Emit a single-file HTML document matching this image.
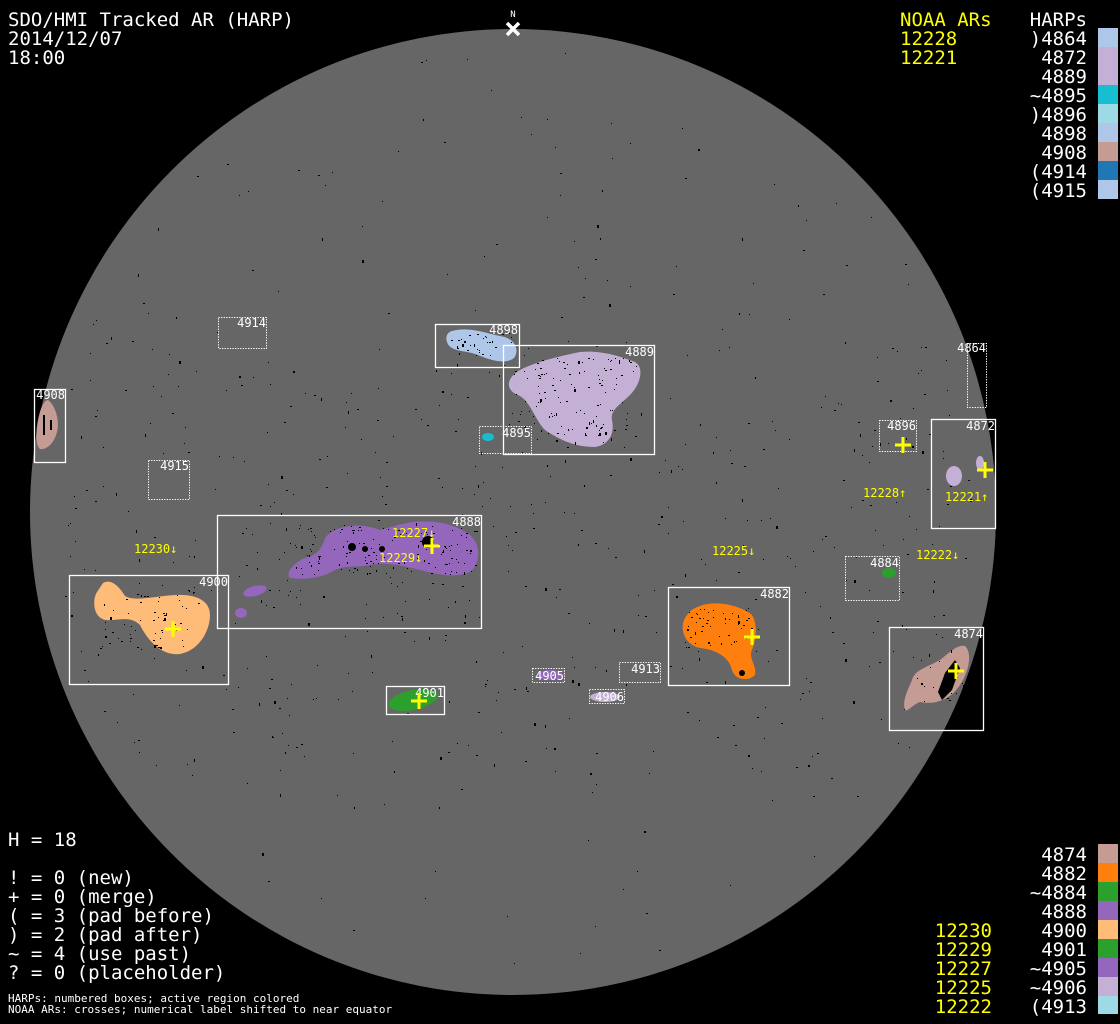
<!DOCTYPE html>
<html><head><meta charset="utf-8"><style>
html,body{margin:0;padding:0;background:#000;}
svg{display:block}
text{font-family:"DejaVu Sans Mono","Liberation Mono",monospace;}
</style></head><body>
<svg id="s" width="1120" height="1024" viewBox="0 0 1120 1024" xmlns="http://www.w3.org/2000/svg">
<rect width="1120" height="1024" fill="#000"/>
<circle cx="513" cy="512" r="483" fill="#666"/>
<g id="dots" fill="#000"></g>
<path d="M452,331 C470,326 488,334 500,336 C515,338 520,350 514,358 C505,365 490,360 478,355 C465,350 450,352 447,342 C445,336 448,332 452,331Z" fill="#aec7e8"/>
<path d="M520,370 C535,362 560,356 580,352 C600,350 620,356 635,362 C645,368 640,385 630,395 C620,405 610,410 612,420 C615,435 608,445 595,447 C575,447 560,440 545,430 C535,420 530,400 518,395 C505,390 506,378 520,370Z" fill="#c5b0d5"/>
<ellipse cx="488" cy="437" rx="6" ry="4" fill="#17becf"/>
<path d="M48,400 C55,405 60,420 57,432 C54,444 46,450 40,449 C35,445 36,430 38,420 C40,410 43,401 48,400Z" fill="#c49c94"/>
<ellipse cx="954" cy="476" rx="8" ry="10" fill="#c5b0d5"/>
<ellipse cx="980" cy="463" rx="4" ry="7" fill="#c5b0d5"/>
<ellipse cx="889" cy="573" rx="7" ry="5" fill="#2ca02c"/>
<path d="M395,526 C420,518 450,520 470,535 C482,545 480,565 470,572 C455,578 440,575 420,570 C400,565 385,562 370,565 C355,568 345,565 335,570 C322,578 305,580 290,578 C285,572 295,562 305,558 C318,555 322,548 325,538 C335,525 360,522 380,530 Z" fill="#9467bd"/>
<ellipse cx="255" cy="591" rx="12" ry="5" fill="#9467bd" transform="rotate(-15 255 591)"/>
<ellipse cx="241" cy="613" rx="6" ry="5" fill="#9467bd"/>
<path d="M103,583 C112,578 120,588 125,596 C135,602 155,596 175,595 C195,594 210,600 210,615 C210,630 200,650 180,654 C165,656 150,645 140,625 C130,615 118,621 106,620 C93,618 92,600 97,592 Z" fill="#ffbb78"/>
<path d="M700,606 C715,600 740,605 752,615 C758,625 756,640 752,650 C748,658 757,665 755,675 C748,682 735,680 732,670 C730,660 720,650 700,648 C685,645 680,630 684,620 C688,612 693,608 700,606Z" fill="#ff7f0e"/>
<path d="M965,646 C972,652 970,670 960,685 C950,700 935,705 920,702 C912,705 908,712 905,710 C902,700 908,690 912,680 C915,670 925,668 940,660 C950,652 958,644 965,646Z" fill="#c49c94"/>
<ellipse cx="413" cy="700" rx="25" ry="10" fill="#2ca02c" transform="rotate(-12 413 700)"/>
<ellipse cx="550" cy="675" rx="13" ry="5" fill="#9467bd"/>
<ellipse cx="605" cy="697" rx="15" ry="5" fill="#c5b0d5"/>
<g fill="#000">
<circle cx="428" cy="542" r="6"/><circle cx="352" cy="547" r="4"/><circle cx="365" cy="549" r="3"/><circle cx="382" cy="549" r="3"/>
<path d="M945,673 L955,660 L960,668 L952,690 L942,700 L938,692Z"/>
<circle cx="742" cy="673" r="3"/><rect x="43" y="415" width="2" height="20"/><rect x="50" y="420" width="2" height="10"/>
</g>
<g id="rdots" fill="#000"></g>
<g fill="none" stroke="#fff" stroke-width="1.3">
<rect x="435.5" y="324.5" width="84" height="43"/>
<rect x="503.5" y="345.5" width="151" height="109"/>
<rect x="34.5" y="389.5" width="31" height="73"/>
<rect x="931.5" y="419.5" width="64" height="109"/>
<rect x="217.5" y="515.5" width="264" height="113"/>
<rect x="69.5" y="575.5" width="159" height="109"/>
<rect x="668.5" y="587.5" width="121" height="98"/>
<rect x="889.5" y="627.5" width="94" height="103"/>
<rect x="386.5" y="686.5" width="58" height="28"/>
</g>
<g fill="none" stroke="#fff" stroke-width="1" stroke-dasharray="1.3 1.3">
<rect x="218.5" y="317.5" width="48" height="31"/>
<rect x="967.5" y="343.5" width="19" height="64"/>
<rect x="479.5" y="426.5" width="52" height="27"/>
<rect x="879.5" y="420.5" width="37" height="31"/>
<rect x="148.5" y="460.5" width="41" height="39"/>
<rect x="845.5" y="556.5" width="54" height="44"/>
<rect x="619.5" y="662.5" width="41" height="20"/>
<rect x="532.5" y="668.5" width="32" height="14"/>
<rect x="589.5" y="689.5" width="35" height="14"/>
</g>
<g fill="#fff" font-size="12" text-anchor="end">
<text x="266" y="327">4914</text><text x="518" y="334">4898</text><text x="654" y="356">4889</text>
<text x="986" y="352">4864</text><text x="65" y="399">4908</text><text x="531" y="437">4895</text>
<text x="916" y="430">4896</text><text x="995" y="430">4872</text><text x="189" y="470">4915</text>
<text x="481" y="526">4888</text><text x="899" y="567">4884</text><text x="228" y="586">4900</text>
<text x="789" y="598">4882</text><text x="983" y="638">4874</text><text x="660" y="673">4913</text>
<text x="564" y="680">4905</text><text x="624" y="701">4906</text><text x="444" y="697">4901</text>
</g>
<g stroke="#ff0" stroke-width="3">
<path d="M424,546h16M432,538v16"/><path d="M165,629h16M173,621v16"/><path d="M744,637h16M752,629v16"/>
<path d="M948,671h16M956,663v16"/><path d="M895,445h16M903,437v16"/><path d="M977,470h16M985,462v16"/>
<path d="M411,701h16M419,693v16"/>
</g>
<g fill="#ff0" font-size="12">
<text x="134" y="553">12230↓</text><text x="392" y="537">12227↓</text><text x="379" y="562">12229↓</text>
<text x="712" y="555">12225↓</text><text x="863" y="497">12228↑</text><text x="945" y="501">12221↑</text>
<text x="916" y="559">12222↓</text>
</g>
<path d="M507,23 L519,35 M519,23 L507,35" stroke="#fff" stroke-width="3.5"/>
<text x="513" y="17" fill="#fff" font-size="9" text-anchor="middle">N</text>
<g fill="#fff" font-size="19">
<text x="8" y="26">SDO/HMI Tracked AR (HARP)</text>
<text x="8" y="45">2014/12/07</text>
<text x="8" y="64">18:00</text>
<text x="8" y="846">H = 18</text>
<text x="8" y="884">! = 0 (new)</text>
<text x="8" y="903">+ = 0 (merge)</text>
<text x="8" y="922">( = 3 (pad before)</text>
<text x="8" y="941">) = 2 (pad after)</text>
<text x="8" y="960">~ = 4 (use past)</text>
<text x="8" y="979">? = 0 (placeholder)</text>
</g>
<g fill="#fff" font-size="11">
<text x="8" y="1002">HARPs: numbered boxes; active region colored</text>
<text x="8" y="1013">NOAA ARs: crosses; numerical label shifted to near equator</text>
</g>
<g fill="#ff0" font-size="19">
<text x="900" y="26">NOAA ARs</text><text x="900" y="45">12228</text><text x="900" y="64">12221</text>
</g>
<g fill="#ff0" font-size="19" text-anchor="end">
<text x="992" y="937">12230</text><text x="992" y="956">12229</text><text x="992" y="975">12227</text><text x="992" y="994">12225</text><text x="992" y="1013">12222</text>
</g>
<g fill="#fff" font-size="19" text-anchor="end">
<text x="1087" y="26">HARPs</text>
<text x="1087" y="45">)4864</text><text x="1087" y="64">4872</text><text x="1087" y="83">4889</text>
<text x="1087" y="102">~4895</text><text x="1087" y="121">)4896</text><text x="1087" y="140">4898</text>
<text x="1087" y="159">4908</text><text x="1087" y="178">(4914</text><text x="1087" y="197">(4915</text>
<text x="1087" y="861">4874</text><text x="1087" y="880">4882</text><text x="1087" y="899">~4884</text>
<text x="1087" y="918">4888</text><text x="1087" y="937">4900</text><text x="1087" y="956">4901</text>
<text x="1087" y="975">~4905</text><text x="1087" y="994">~4906</text><text x="1087" y="1013">(4913</text>
</g>
<g>
<rect x="1098" y="28" width="20" height="19" fill="#aec7e8"/><rect x="1098" y="47" width="20" height="19" fill="#c5b0d5"/>
<rect x="1098" y="66" width="20" height="19" fill="#c5b0d5"/><rect x="1098" y="85" width="20" height="19" fill="#17becf"/>
<rect x="1098" y="104" width="20" height="19" fill="#9edae5"/><rect x="1098" y="123" width="20" height="19" fill="#aec7e8"/>
<rect x="1098" y="142" width="20" height="19" fill="#c49c94"/><rect x="1098" y="161" width="20" height="19" fill="#1f77b4"/>
<rect x="1098" y="180" width="20" height="19" fill="#aec7e8"/>
<rect x="1098" y="844" width="20" height="19" fill="#c49c94"/><rect x="1098" y="863" width="20" height="19" fill="#ff7f0e"/>
<rect x="1098" y="882" width="20" height="19" fill="#2ca02c"/><rect x="1098" y="901" width="20" height="19" fill="#9467bd"/>
<rect x="1098" y="920" width="20" height="19" fill="#ffbb78"/><rect x="1098" y="939" width="20" height="19" fill="#2ca02c"/>
<rect x="1098" y="958" width="20" height="19" fill="#9467bd"/><rect x="1098" y="977" width="20" height="19" fill="#c5b0d5"/>
<rect x="1098" y="996" width="20" height="18" fill="#9edae5"/>
</g>
</svg>
<script>
(function(){
var seed=12345;function r(){seed=(seed*1103515245+12345)%2147483648;return seed/2147483648;}
var ns="http://www.w3.org/2000/svg",g=document.getElementById("dots"),h=document.getElementById("rdots");
function add(p,x,y){var e=document.createElementNS(ns,"rect");e.setAttribute("x",x|0);e.setAttribute("y",y|0);
var w=r()<0.7?1:2,hh=r()<0.75?1:(1+(r()*3|0));e.setAttribute("width",w);e.setAttribute("height",hh);p.appendChild(e);}
for(var i=0;i<900;i++){var a=r()*6.2832,d=Math.sqrt(r())*465;var y=512+d*Math.sin(a);
if(Math.abs(y-560)>220&&r()<0.7)continue;add(g,513+d*Math.cos(a),y);}
var reg=[[445,332,70,25,30],[512,358,125,85,130],[295,525,180,50,110],[100,590,105,60,60],[685,608,68,40,50],[912,650,55,55,20],[230,520,250,100,50]];
reg.forEach(function(q){for(var k=0;k<q[4];k++)add(h,q[0]+r()*q[2],q[1]+r()*q[3]);});
})();
</script>
</body></html>
